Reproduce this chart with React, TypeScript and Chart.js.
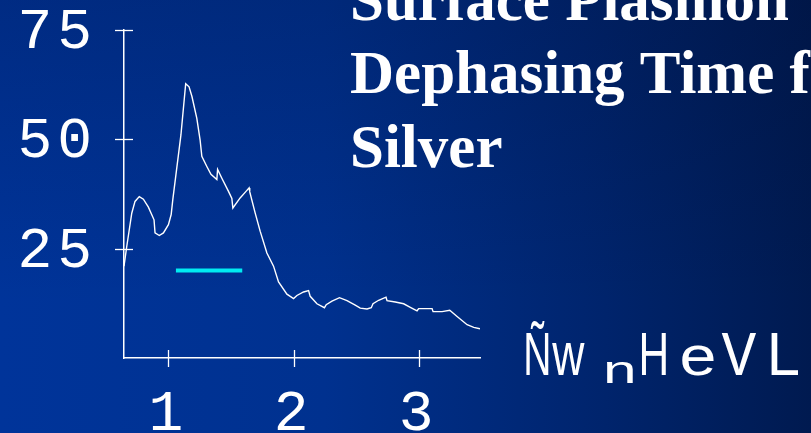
import React, { useEffect, useRef } from "react";
import { Chart, registerables } from "chart.js";

Chart.register(...registerables);

// photon energy (eV)
const energy = [
  0.645, 0.667, 0.707, 0.733, 0.767, 0.8, 0.84, 0.885, 0.893, 0.927, 0.96, 1.0, 1.022, 1.035,
  1.1, 1.138, 1.165, 1.188, 1.227, 1.253, 1.267, 1.307, 1.34, 1.387, 1.393, 1.427, 1.48,
  1.507, 1.515, 1.573, 1.62, 1.645, 1.65, 1.693, 1.733, 1.787, 1.84, 1.88, 1.947, 2.0,
  2.027, 2.08, 2.12, 2.133, 2.187, 2.247, 2.261, 2.307, 2.367, 2.427, 2.493, 2.533, 2.587,
  2.621, 2.635, 2.68, 2.739, 2.747, 2.813, 2.88, 2.933, 2.987, 3.0, 3.107, 3.115, 3.187,
  3.248, 3.307, 3.387, 3.44, 3.49,
];
// dephasing time (fs)
const dephasingTime = [
  21.0, 25.5, 33.1, 35.8, 36.9, 36.3, 34.5, 31.6, 28.6, 28.0, 28.6, 30.5, 32.8, 36.2,
  51.0, 62.7, 62.0, 59.8, 54.8, 49.9, 46.1, 43.8, 42.0, 40.8, 43.1, 41.1, 38.1,
  36.5, 34.3, 36.6, 38.1, 38.9, 38.0, 33.2, 29.0, 24.0, 21.0, 17.4, 14.6, 13.6,
  14.3, 15.1, 15.4, 14.1, 12.4, 11.5, 12.2, 13.0, 13.8, 13.1, 12.1, 11.4, 11.2,
  11.5, 12.4, 13.2, 13.9, 13.1, 12.8, 12.4, 11.6, 10.8, 11.3, 11.3, 10.6, 10.6,
  10.9, 9.5, 7.6, 7.0, 6.7,
];
// cyan reference bar
const barEnergy = [1.06, 1.59];
const barTime = [20, 20];

const xTickValues = [1, 2, 3];
const yTickValues = [25, 50, 75];
const xMin = 0.645;
const xMax = 3.49;
const yMin = 0;
const yMax = 75;

const titleLines = ["Surface Plasmon", "Dephasing Time for", "Silver"];
const axisLabelGlyphs = ["Ñ", "w", "n", "H", "e", "V", "L"];

export default function App() {
  const ref = useRef<HTMLCanvasElement>(null);

  useEffect(() => {
    const canvas = ref.current;
    if (!canvas) return;

    const glyphStyle = [
      { font: "62px 'Liberation Sans'", cx: 537.5, w: 22, base: 375 },
      { font: "62px 'Liberation Sans'", cx: 568, w: 33, base: 375 },
      { font: "38px 'Liberation Mono'", cx: 620, w: 27, base: 383 },
      { font: "62px 'Liberation Sans'", cx: 654, w: 24, base: 375 },
      { font: "56px 'Liberation Mono'", cx: 697.5, w: 32, base: 375 },
      { font: "63px 'Liberation Mono'", cx: 739, w: 35, base: 375 },
      { font: "62px 'Liberation Sans'", cx: 785, w: 27, base: 375 },
    ];

    const overlay = {
      id: "overlay",
      beforeDraw(chart: any) {
        chart.ctx.letterSpacing = "5px";
      },
      afterDraw(chart: any) {
        const ctx = chart.ctx as CanvasRenderingContext2D;
        ctx.save();
        (ctx as any).letterSpacing = "0px";
        const xs = chart.scales.x;
        const ys = chart.scales.y;
        ctx.strokeStyle = "#ffffff";
        ctx.lineWidth = 1.3;
        ys.ticks.forEach((t: any) => {
          const p = Math.round(ys.getPixelForValue(t.value)) + 0.5;
          ctx.beginPath();
          ctx.moveTo(ys.right - 9, p);
          ctx.lineTo(ys.right + 9, p);
          ctx.stroke();
        });
        xs.ticks.forEach((t: any) => {
          const p = Math.round(xs.getPixelForValue(t.value)) + 0.5;
          ctx.beginPath();
          ctx.moveTo(p, xs.top - 8);
          ctx.lineTo(p, xs.top + 9);
          ctx.stroke();
        });

        // title
        ctx.fillStyle = "#ffffff";
        ctx.font = "bold 61px 'Liberation Serif'";
        ctx.textAlign = "left";
        ctx.textBaseline = "alphabetic";
        titleLines.forEach((s, i) => ctx.fillText(s, 350, 20 + i * 73.3));

        // axis label
        axisLabelGlyphs.forEach((g, i) => {
          const st = glyphStyle[i];
          ctx.font = st.font;
          const m = ctx.measureText(g);
          const ink = m.actualBoundingBoxLeft + m.actualBoundingBoxRight;
          const sx = st.w / ink;
          const inkMid = (m.actualBoundingBoxRight - m.actualBoundingBoxLeft) / 2;
          ctx.save();
          ctx.translate(st.cx, st.base);
          ctx.scale(sx, 1);
          ctx.fillText(g, -inkMid, 0);
          ctx.restore();
        });
        ctx.restore();
      },
    };

    const chart = new Chart(canvas, {
      type: "line",
      data: {
        datasets: [
          {
            data: energy.map((x, i) => ({ x, y: dephasingTime[i] })),
            borderColor: "#ffffff",
            borderWidth: 1.4,
            pointRadius: 0,
            tension: 0,
            fill: false,
          },
          {
            data: barEnergy.map((x, i) => ({ x, y: barTime[i] })),
            borderColor: "#00ecf2",
            borderWidth: 4,
            borderCapStyle: "butt",
            pointRadius: 0,
            tension: 0,
            fill: false,
          },
        ],
      },
      options: {
        responsive: false,
        animation: false,
        events: [],
        layout: { padding: { left: 0, top: 30, right: 331, bottom: 0 } },
        plugins: {
          legend: { display: false },
          tooltip: { enabled: false },
          title: { display: false },
        },
        scales: {
          x: {
            type: "linear",
            min: xMin,
            max: xMax,
            position: "bottom",
            grid: { display: false, drawTicks: false },
            border: { display: true, color: "#ffffff", width: 1.5 },
            ticks: {
              color: "#ffffff",
              font: { family: "'Liberation Mono'", size: 58 },
              padding: 22,
              maxRotation: 0,
              autoSkip: false,
            },
            afterBuildTicks: (scale: any) => {
              scale.ticks = xTickValues.map((v) => ({ value: v }));
            },
            afterFit: (scale: any) => {
              scale.height = 75;
              scale.paddingLeft = 0;
              scale.paddingRight = 0;
              scale.paddingTop = 0;
              scale.paddingBottom = 0;
            },
          },
          y: {
            type: "linear",
            min: yMin,
            max: yMax,
            grid: { display: false, drawTicks: false },
            border: { display: true, color: "#ffffff", width: 1.5 },
            ticks: {
              color: "#ffffff",
              font: { family: "'Liberation Mono'", size: 58 },
              padding: 27,
              labelOffset: 2.5,
              autoSkip: false,
            },
            afterBuildTicks: (scale: any) => {
              scale.ticks = yTickValues.map((v) => ({ value: v }));
            },
            afterFit: (scale: any) => {
              scale.width = 124;
              scale.paddingLeft = 0;
              scale.paddingRight = 0;
              scale.paddingTop = 0;
              scale.paddingBottom = 0;
            },
          },
        },
      },
      plugins: [overlay],
    } as any);

    return () => chart.destroy();
  }, []);

  return (
    <div
      style={{
        position: "fixed",
        left: 0,
        top: 0,
        width: 811,
        height: 433,
        background:
          "linear-gradient(to bottom, rgba(0,8,40,0.2), rgba(0,0,0,0) 70%), linear-gradient(to right, #00349a 0%, #00318f 40%, #00256f 72%, #001a50 100%)",
        overflow: "hidden",
      }}
    >
      <canvas ref={ref} width={811} height={433} style={{ display: "block" }} />
    </div>
  );
}
